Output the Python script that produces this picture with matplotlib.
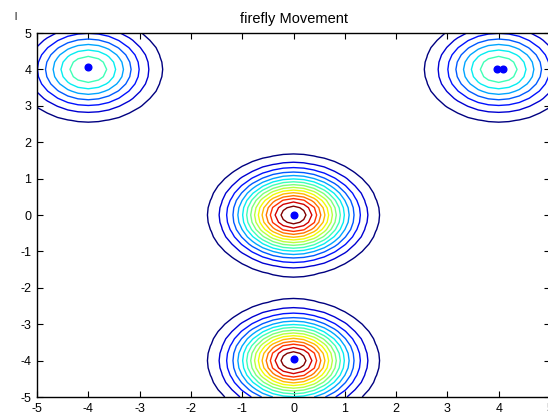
import numpy as np
import matplotlib
matplotlib.use("Agg")
import matplotlib.pyplot as plt

plt.rcParams['font.family'] = ['Liberation Sans', 'DejaVu Sans']
plt.rcParams['axes.unicode_minus'] = False

# peaks of the landscape (centre x, centre y, height)
peak_x = [4, -4, 0, 0]
peak_y = [4, 4, 0, -4]
peak_h = [1, 1, 2, 2]

# contour levels
levels = [0.125, 0.25, 0.375, 0.5, 0.625, 0.75, 0.875, 1.0,
          1.125, 1.25, 1.375, 1.5, 1.625, 1.75, 1.875]

# firefly positions
fly_x = [-4.0, 3.96, 4.08, 0.0, 0.0]
fly_y = [4.07, 4.0, 4.0, 0.0, -3.96]

xticks = [-5, -4, -3, -2, -1, 0, 1, 2, 3, 4, 5]
yticks = [-5, -4, -3, -2, -1, 0, 1, 2, 3, 4, 5]

x = np.linspace(-5, 5, 51)
y = np.linspace(-5, 5, 51)
X, Y = np.meshgrid(x, y)
Z = np.zeros_like(X)
for px, py, ph in zip(peak_x, peak_y, peak_h):
    Z += ph * np.exp(-(X - px)**2 - (Y - py)**2)

fig = plt.figure(figsize=(5.48, 4.2), dpi=100)
ax = fig.add_axes([37/548, 23/420, 513/548, 364/420])
ax.contour(X, Y, Z, levels=levels, cmap='jet', vmin=levels[0], vmax=levels[-1], linewidths=1.0)
ax.plot(fly_x, fly_y, 'o', color='#0000ff', ms=4.8, mec='#0000ff')

ax.set_xlim(-5, 5)
ax.set_ylim(-5, 5)
ax.set_xticks(xticks)
ax.set_yticks(yticks)
ax.tick_params(direction='in', top=True, right=True, length=4, width=0.8, labelsize=9)
ax.tick_params(axis='x', pad=4)
ax.tick_params(axis='y', pad=4)
for s in ax.spines.values():
    s.set_linewidth(1.0)
ax.set_title('firefly Movement', fontsize=10.5, pad=7)
fig.text(14/548, 1 - 17/420, 'l', fontsize=7, ha='left', va='center')

fig.savefig('out.png', dpi=100)
